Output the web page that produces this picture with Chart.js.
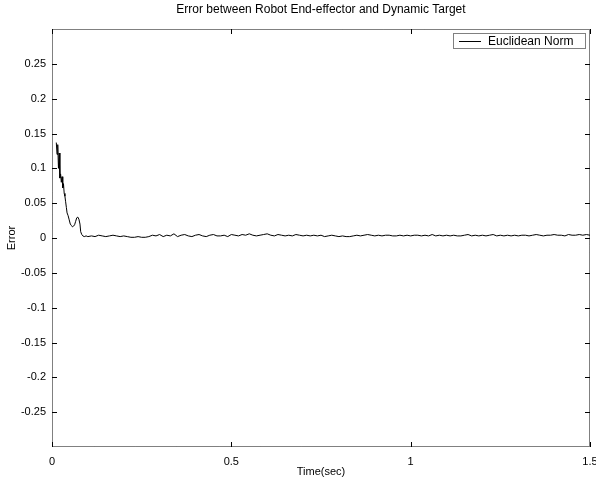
<!DOCTYPE html>
<html>
<head>
<meta charset="utf-8">
<script src="https://cdn.jsdelivr.net/npm/chart.js@4.4.0/dist/chart.umd.min.js"></script>
<style>
  html, body { margin: 0; padding: 0; background: #ffffff; }
  #wrap { width: 596px; height: 480px; }
</style>
</head>
<body>
<div id="wrap"><canvas id="c" width="596" height="480"></canvas></div>
<script>
const chartTitle = "Error between Robot End-effector and Dynamic Target";
const xAxisTitle = "Time(sec)";
const yAxisTitle = "Error";
const seriesLabel = "Euclidean Norm";

const xTicks = [0, 0.5, 1, 1.5];
const yTicks = [-0.25, -0.2, -0.15, -0.1, -0.05, 0, 0.05, 0.1, 0.15, 0.2, 0.25];

const timeEarly = [0.012,0.014,0.016,0.018,0.020,0.022,0.024,0.026,0.028,0.030,0.032,0.034,0.036,0.038,0.040,0.042,0.045,0.048,0.051,0.054,0.057,0.060,0.063,0.066,0.069,0.072,0.075,0.078,0.080,0.083,0.086,0.090,0.095];
const errorEarly = [0.137,0.120,0.134,0.100,0.122,0.086,0.092,0.080,0.088,0.072,0.078,0.064,0.060,0.052,0.044,0.036,0.032,0.026,0.020,0.018,0.016,0.017,0.019,0.024,0.029,0.030,0.027,0.020,0.009,0.005,0.003,0.002,0.003];

const timeLate = [
  0.10,0.11,0.12,0.13,0.14,0.15,0.16,0.17,0.18,0.19,
  0.20,0.21,0.22,0.23,0.24,0.25,0.26,0.27,0.28,0.29,
  0.30,0.31,0.32,0.33,0.34,0.35,0.36,0.37,0.38,0.39,
  0.40,0.41,0.42,0.43,0.44,0.45,0.46,0.47,0.48,0.49,
  0.50,0.51,0.52,0.53,0.54,0.55,0.56,0.57,0.58,0.59,
  0.60,0.61,0.62,0.63,0.64,0.65,0.66,0.67,0.68,0.69,
  0.70,0.71,0.72,0.73,0.74,0.75,0.76,0.77,0.78,0.79,
  0.80,0.81,0.82,0.83,0.84,0.85,0.86,0.87,0.88,0.89,
  0.90,0.91,0.92,0.93,0.94,0.95,0.96,0.97,0.98,0.99,
  1.00,1.01,1.02,1.03,1.04,1.05,1.06,1.07,1.08,1.09,
  1.10,1.11,1.12,1.13,1.14,1.15,1.16,1.17,1.18,1.19,
  1.20,1.21,1.22,1.23,1.24,1.25,1.26,1.27,1.28,1.29,
  1.30,1.31,1.32,1.33,1.34,1.35,1.36,1.37,1.38,1.39,
  1.40,1.41,1.42,1.43,1.44,1.45,1.46,1.47,1.48,1.49,
  1.50];
const errorLate = [
  0.002,0.003,0.002,0.004,0.003,0.002,0.003,0.004,0.003,0.002,
  0.003,0.002,0.001,0.001,0.002,0.001,0.001,0.002,0.004,0.003,
  0.005,0.002,0.004,0.003,0.006,0.002,0.004,0.005,0.003,0.002,
  0.004,0.005,0.003,0.002,0.004,0.005,0.003,0.003,0.004,0.002,
  0.005,0.004,0.003,0.005,0.004,0.006,0.004,0.003,0.004,0.005,
  0.006,0.004,0.003,0.005,0.004,0.003,0.004,0.003,0.005,0.004,
  0.003,0.004,0.003,0.004,0.003,0.004,0.002,0.003,0.004,0.003,
  0.002,0.003,0.002,0.002,0.003,0.004,0.003,0.004,0.005,0.004,
  0.003,0.004,0.003,0.004,0.004,0.003,0.003,0.004,0.003,0.004,
  0.003,0.004,0.004,0.003,0.004,0.003,0.005,0.003,0.004,0.003,
  0.004,0.003,0.004,0.003,0.003,0.004,0.005,0.003,0.004,0.003,
  0.004,0.003,0.004,0.005,0.003,0.004,0.003,0.004,0.003,0.004,
  0.003,0.004,0.004,0.003,0.004,0.005,0.004,0.003,0.004,0.004,
  0.005,0.004,0.004,0.003,0.005,0.004,0.004,0.005,0.004,0.005,
  0.004];

const times = timeEarly.concat(timeLate);
const errors = errorEarly.concat(errorLate);

const FONT = "'Liberation Sans', Arial, Helvetica, sans-serif";

const decorPlugin = {
  id: 'decor',
  afterDraw(chart) {
    const ctx = chart.ctx;
    const a = chart.chartArea;
    const xs = chart.scales.x, ys = chart.scales.y;
    ctx.save();
    // axes box
    ctx.strokeStyle = '#000';
    ctx.lineWidth = 1;
    ctx.setLineDash([1, 1]);
    ctx.strokeRect(a.left + 0.5, a.top + 0.5, a.right - a.left - 1, a.bottom - a.top - 1);
    ctx.setLineDash([]);
    // inward tick marks
    const tl = 5;
    ctx.beginPath();
    ys.ticks.forEach((t, i) => {
      const y = Math.round(ys.getPixelForTick(i)) + 0.5;
      ctx.moveTo(a.left, y); ctx.lineTo(a.left + tl, y);
      ctx.moveTo(a.right, y); ctx.lineTo(a.right - tl, y);
    });
    xs.ticks.forEach((t, i) => {
      const x = Math.round(xs.getPixelForTick(i)) + 0.5;
      ctx.moveTo(x, a.bottom); ctx.lineTo(x, a.bottom - tl);
      ctx.moveTo(x, a.top); ctx.lineTo(x, a.top + tl);
    });
    ctx.stroke();
    // titles
    ctx.fillStyle = '#000';
    ctx.textAlign = 'center';
    ctx.textBaseline = 'middle';
    const cx = (a.left + a.right) / 2;
    ctx.font = '12px ' + FONT;
    ctx.fillText(chartTitle, cx, 10);
    ctx.font = '11px ' + FONT;
    ctx.fillText(xAxisTitle, cx, 472);
    ctx.save();
    ctx.translate(12, (a.top + a.bottom) / 2);
    ctx.rotate(-Math.PI / 2);
    ctx.fillText(yAxisTitle, 0, 0);
    ctx.restore();
    // legend
    const lx = 453, ly = 33, lw = 132, lh = 15;
    ctx.fillStyle = '#fff';
    ctx.fillRect(lx, ly, lw, lh);
    ctx.strokeStyle = '#000';
    ctx.setLineDash([1, 1]);
    ctx.strokeRect(lx + 0.5, ly + 0.5, lw, lh);
    ctx.setLineDash([]);
    ctx.beginPath();
    ctx.moveTo(459, ly + 8.5); ctx.lineTo(481, ly + 8.5);
    ctx.stroke();
    ctx.fillStyle = '#000';
    ctx.textAlign = 'left';
    ctx.font = '12px ' + FONT;
    ctx.fillText(chart.data.datasets[0].label, 488, ly + 8.5);
    ctx.restore();
  }
};

new Chart(document.getElementById('c'), {
  type: 'line',
  data: {
    datasets: [{
      label: seriesLabel,
      data: times.map((t, i) => ({ x: t, y: errors[i] })),
      borderColor: '#000',
      borderWidth: 1,
      pointRadius: 0,
      tension: 0,
      fill: false
    }]
  },
  options: {
    responsive: false,
    animation: false,
    devicePixelRatio: 1,
    layout: { padding: { left: 0, top: 29, right: 6, bottom: 0 } },
    plugins: { legend: { display: false }, title: { display: false }, tooltip: { enabled: false } },
    scales: {
      x: {
        type: 'linear', min: 0, max: 1.5,
        afterBuildTicks: s => { s.ticks = xTicks.map(v => ({ value: v })); },
        afterFit: s => { s.height = 33; s.paddingLeft = 0; s.paddingRight = 0; },
        grid: { display: false, drawTicks: false },
        border: { display: false },
        ticks: {
          color: '#000', padding: 8, maxRotation: 0,
          font: { family: FONT, size: 11 },
          callback: v => String(Number(v.toFixed(2)))
        }
      },
      y: {
        type: 'linear', min: -0.3, max: 0.3,
        afterBuildTicks: s => { s.ticks = yTicks.map(v => ({ value: v })); },
        afterFit: s => { s.width = 52; s.paddingTop = 0; s.paddingBottom = 0; },
        grid: { display: false, drawTicks: false },
        border: { display: false },
        ticks: {
          color: '#000', padding: 6,
          font: { family: FONT, size: 11 },
          callback: v => String(Number(v.toFixed(2)))
        }
      }
    }
  },
  plugins: [decorPlugin]
});
</script>
</body>
</html>
